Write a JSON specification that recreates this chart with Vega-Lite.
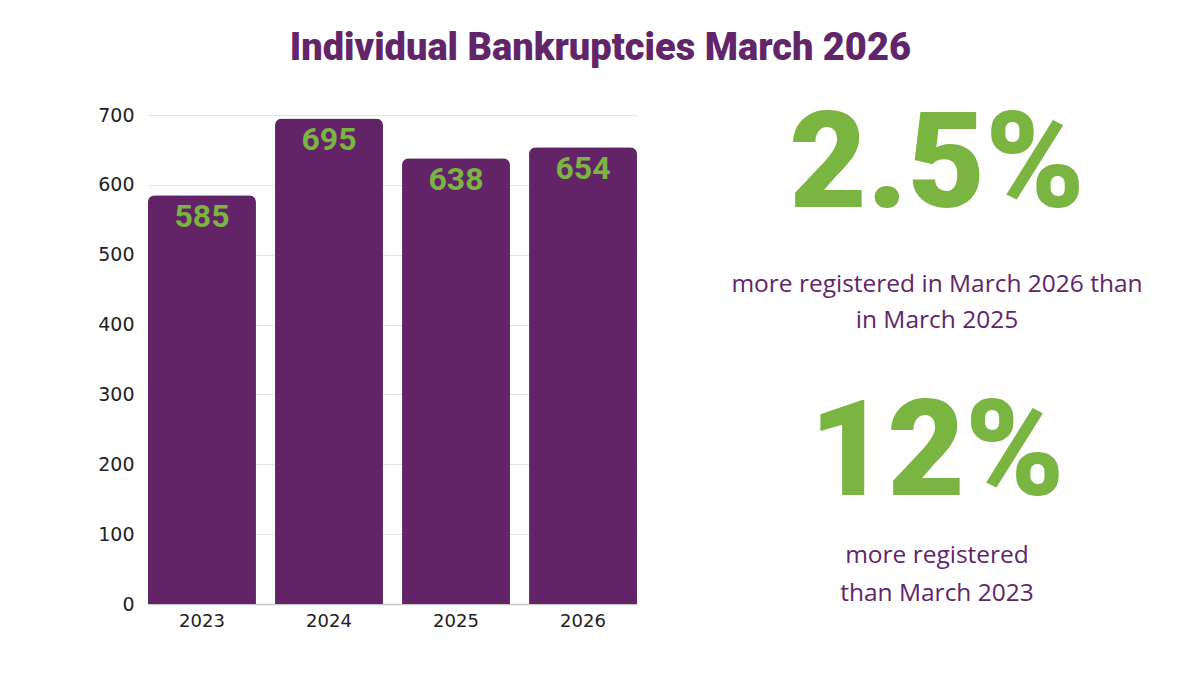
{
  "$schema": "https://vega.github.io/schema/vega-lite/v6.json",
  "background": "white",
  "padding": {"left": 97, "top": 30, "right": 0, "bottom": 0},
  "title": {
    "text": "Individual Bankruptcies March 2026",
    "font": "Roboto",
    "fontWeight": 900,
    "fontSize": 38,
    "color": "#62256A",
    "anchor": "middle",
    "dx": -27,
    "offset": 32
  },
  "config": {"view": {"stroke": null}},
  "spacing": 80,
  "hconcat": [
    {
      "width": 489,
      "height": 489,
      "data": {"values": [
        {"year": "2023", "count": 585},
        {"year": "2024", "count": 695},
        {"year": "2025", "count": 638},
        {"year": "2026", "count": 654}
      ]},
      "encoding": {
        "x": {
          "field": "year", "type": "nominal", "title": null,
          "scale": {"paddingInner": 0.15, "paddingOuter": 0},
          "axis": {"labelAngle": 0, "labelFont": "DejaVu Sans", "labelFontSize": 18, "labelColor": "#222222", "labelPadding": 8, "ticks": false, "domainColor": "#c8c8c8", "domainWidth": 1.5}
        },
        "y": {
          "field": "count", "type": "quantitative", "title": null,
          "scale": {"domain": [0, 700], "nice": false},
          "axis": {"values": [0, 100, 200, 300, 400, 500, 600, 700], "labelFont": "DejaVu Sans", "labelFontSize": 19, "labelColor": "#222222", "labelPadding": 14, "ticks": false, "domain": false, "gridColor": "#e3e3e3", "gridWidth": 1}
        }
      },
      "layer": [
        {"mark": {"type": "bar", "color": "#632467", "cornerRadiusTopLeft": 7, "cornerRadiusTopRight": 7}},
        {
          "mark": {"type": "text", "font": "Roboto", "fontWeight": 700, "fontSize": 32, "color": "#7AB441", "baseline": "alphabetic", "dy": 32},
          "encoding": {"text": {"field": "count", "type": "quantitative"}}
        }
      ]
    },
    {
      "width": 440,
      "height": 489,
      "data": {"values": [
        {"label": "2.5%", "pos": 92, "kind": "big"},
        {"label": "more registered in March 2026 than", "pos": 177, "kind": "small"},
        {"label": "in March 2025", "pos": 213, "kind": "small"},
        {"label": "12%", "pos": 380, "kind": "big"},
        {"label": "more registered", "pos": 448, "kind": "small"},
        {"label": "than March 2023", "pos": 486, "kind": "small"}
      ]},
      "encoding": {
        "x": {"datum": 0.5, "type": "quantitative", "scale": {"domain": [0, 1]}, "axis": null},
        "y": {"field": "pos", "type": "quantitative", "scale": {"domain": [0, 489], "reverse": true, "nice": false, "zero": false}, "axis": null},
        "text": {"field": "label", "type": "nominal"}
      },
      "layer": [
        {
          "transform": [{"filter": "datum.kind === 'big'"}],
          "mark": {"type": "text", "font": "Roboto", "fontWeight": 900, "fontSize": 134, "color": "#7AB441", "baseline": "alphabetic", "align": "center"}
        },
        {
          "transform": [{"filter": "datum.kind === 'small'"}],
          "mark": {"type": "text", "font": "Open Sans", "fontSize": 24.5, "color": "#62256A", "baseline": "alphabetic", "align": "center"}
        }
      ]
    }
  ]
}
